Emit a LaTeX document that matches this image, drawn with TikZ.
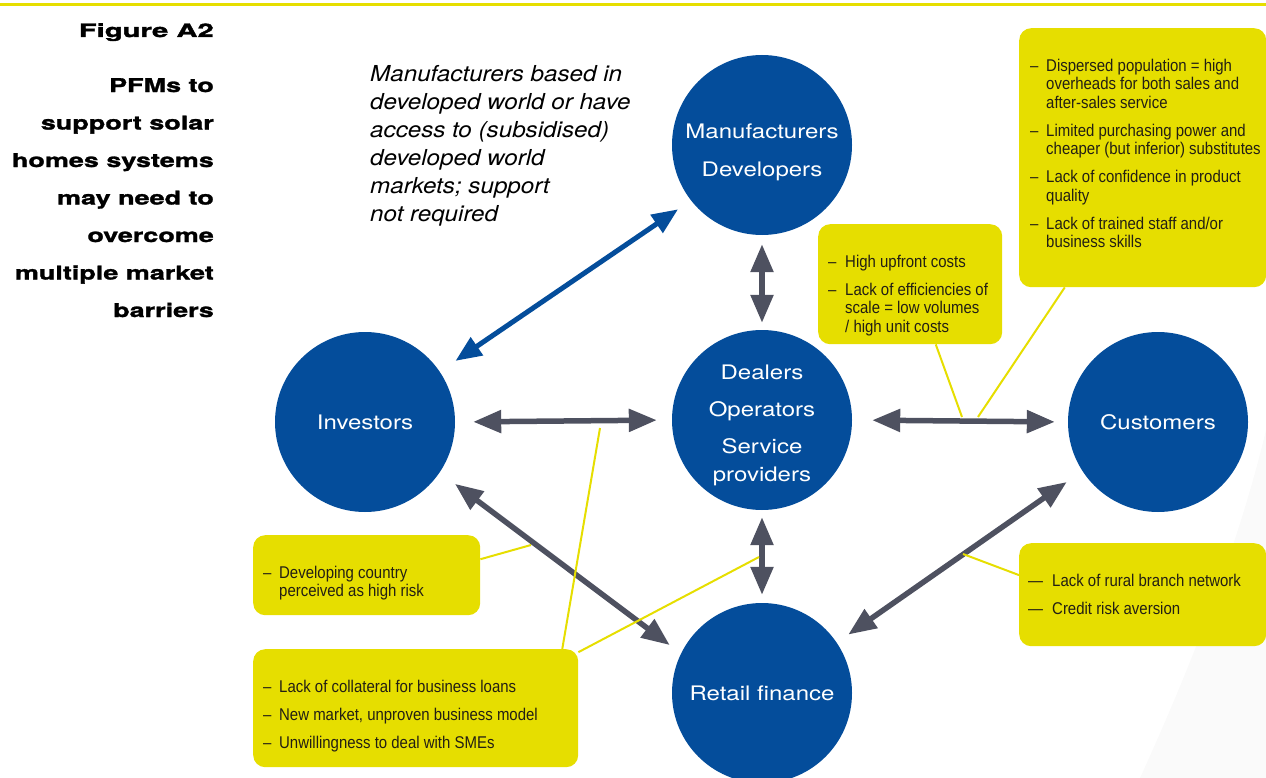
\documentclass[tikz,border=0pt]{standalone}
\usepackage{fontspec}
\setmainfont{TeX Gyre Heros}
\newfontfamily\headfont[FakeStretch=1.42,FakeBold=1.5]{TeX Gyre Heros}
\newfontfamily\figfont[FakeStretch=1.58,FakeBold=2]{TeX Gyre Heros}
\newfontfamily\circfont[FakeStretch=1.2]{TeX Gyre Heros}
\newfontfamily\notefont[FakeStretch=1.1]{TeX Gyre Heros}
\newfontfamily\boxfont[FakeStretch=0.88]{Liberation Sans}
\usetikzlibrary{arrows.meta,calc}

\definecolor{pfmblue}{RGB}{4,77,155}
\definecolor{pfmyellow}{RGB}{230,222,0}
\definecolor{pfmgrey}{RGB}{78,81,96}
\definecolor{pfmtext}{RGB}{35,31,20}

% body of a yellow box: width, height, left pad, items
\newcommand\boxbody[4]{%
  \parbox[c][#2pt][t]{#1pt}{\boxfont\fontsize{17}{18.5}\selectfont
    \raggedright\leftskip=#3pt\parskip=9.5pt\vspace*{19.5pt}#4}}
% one barrier item with a hanging dash
\newcommand\bitem[2][16]{\par\noindent\hangindent=#1pt\hangafter=1
  \makebox[#1pt][l]{–}\rule{0pt}{14pt}#2\par}
\newcommand\ritem[1]{\par\noindent\hangindent=24pt\hangafter=1
  \makebox[24pt][l]{—}\rule{0pt}{14pt}#1\par}

\tikzset{
  actor/.style={circle, fill=pfmblue, minimum size=180pt, inner sep=0pt,
    text=white, align=center, font=\circfont\fontsize{20}{28}\selectfont},
  ybox/.style={fill=pfmyellow, rounded corners=12pt, inner sep=0pt,
    text=pfmtext, anchor=north west},
  garrow/.style={draw=pfmgrey, line width=5.5pt,
    {Triangle[length=28pt,width=22pt]}-{Triangle[length=28pt,width=22pt]}},
  barrow/.style={draw=pfmblue, line width=5pt,
    {Triangle[length=26pt,width=21pt]}-{Triangle[length=26pt,width=21pt]}},
  yline/.style={draw=pfmyellow, line width=2pt},
}

\begin{document}
\begin{tikzpicture}[x=1pt, y=-1pt]
\useasboundingbox (0,0) rectangle (1266,778);

% faint sheen at the right margin
\fill[black!2] (1266,430) .. controls (1235,560) and (1180,690) .. (1140,778)
  -- (1266,778) -- cycle;

% rule across the top
\draw[pfmyellow, line width=3pt] (0,5) -- (1266,5);

% heading (base anchor sits on the last line)
\node[anchor=base east, inner sep=0pt, font=\figfont\bfseries\fontsize{18.5}{20}\selectfont]
  (fig) at (214,37) {Figure A2};
\node[anchor=base east, inner sep=0pt, align=right,
  font=\headfont\bfseries\fontsize{19}{37.5}\selectfont] (head) at (214,317)
  {PFMs to\\support solar\\homes systems\\may need to\\overcome\\multiple market\\barriers};

% market actors
\node[actor] (manu) at (762,145) {\rule{0pt}{29pt}Manufacturers\\[10pt]Developers};
\node[actor] (deal) at (762,420) {\rule{0pt}{25pt}Dealers\\[9.5pt]Operators\\[9pt]Service\\providers};
\node[actor] (inv)  at (365,422) {Investors};
\node[actor] (cust) at (1158,422) {Customers};
\node[actor] (ret)  at (762,693) {Retail finance};

% note on manufacturers
\node[anchor=base west, inner sep=0pt, align=left,
  font=\notefont\itshape\fontsize{22}{28}\selectfont] (note) at (370,222)
  {Manufacturers based in\\developed world or have\\access to (subsidised)\\developed world\\markets; support\\not required};

% links between actors
\draw[barrow, shorten <=19pt, shorten >=15.6pt] (inv.34.6) -- (manu.-142.7);
\draw[garrow, shorten <=18pt, shorten >=15pt] (inv.east) -- (deal.west);
\draw[garrow, shorten <=20pt, shorten >=13pt] (deal.east) -- (cust.west);
\draw[garrow, shorten <=9pt, shorten >=7pt] (manu.south) -- (deal.north);
\draw[garrow, shorten <=7pt, shorten >=8pt] (deal.south) -- (ret.north);
\draw[garrow, shorten <=19pt, shorten >=14pt] (inv.-34.6) -- (ret.154.4);
\draw[garrow, shorten <=19pt, shorten >=14pt] (cust.-147.3) -- (ret.34.5);

% barrier boxes
\node[ybox] (btop) at (1019,28) {\boxbody{247}{259}{11}{%
  \bitem{Dispersed population = high\newline overheads for both sales and\newline after-sales service}
  \bitem{Limited purchasing power and\newline cheaper (but inferior) substitutes}
  \bitem{Lack of confidence in product\newline quality}
  \bitem{Lack of trained staff and/or\newline business skills}}};
\node[ybox] (bmid) at (818,224) {\boxbody{184}{120}{10}{%
  \bitem[17]{High upfront costs}
  \bitem[17]{Lack of efficiencies of\newline scale = low volumes\newline / high unit costs}}};
\node[ybox] (bdev) at (253,535) {\boxbody{227}{80}{10}{%
  \bitem{Developing country\newline perceived as high risk}}};
\node[ybox] (bloan) at (253,649) {\boxbody{325}{118}{10}{%
  \bitem{Lack of collateral for business loans}
  \bitem{New market, unproven business model}
  \bitem{Unwillingness to deal with SMEs}}};
\node[ybox] (brur) at (1019,543) {\boxbody{247}{103}{9}{%
  \ritem{Lack of rural branch network}
  \ritem{Credit risk aversion}}};

% points on the links that the barriers refer to
\coordinate (pInvRet) at (531,545);
\coordinate (pInvDeal) at (600,428);
\coordinate (pDealRet) at (759,557);
\coordinate (pDealCustA) at (962,417);
\coordinate (pDealCustB) at (978,417);
\coordinate (pCustRet) at (963,554);

% leader lines
\draw[yline] (bdev.8) -- (pInvRet);
\draw[yline] (bloan.22) -- (pInvDeal);
\draw[yline] (bloan.19) -- (pDealRet);
\draw[yline] (bmid.-67) -- (pDealCustA);
\draw[yline] (btop.-121.5) -- (pDealCustB);
\draw[yline] (brur.171) -- (pCustRet);
\end{tikzpicture}
\end{document}
